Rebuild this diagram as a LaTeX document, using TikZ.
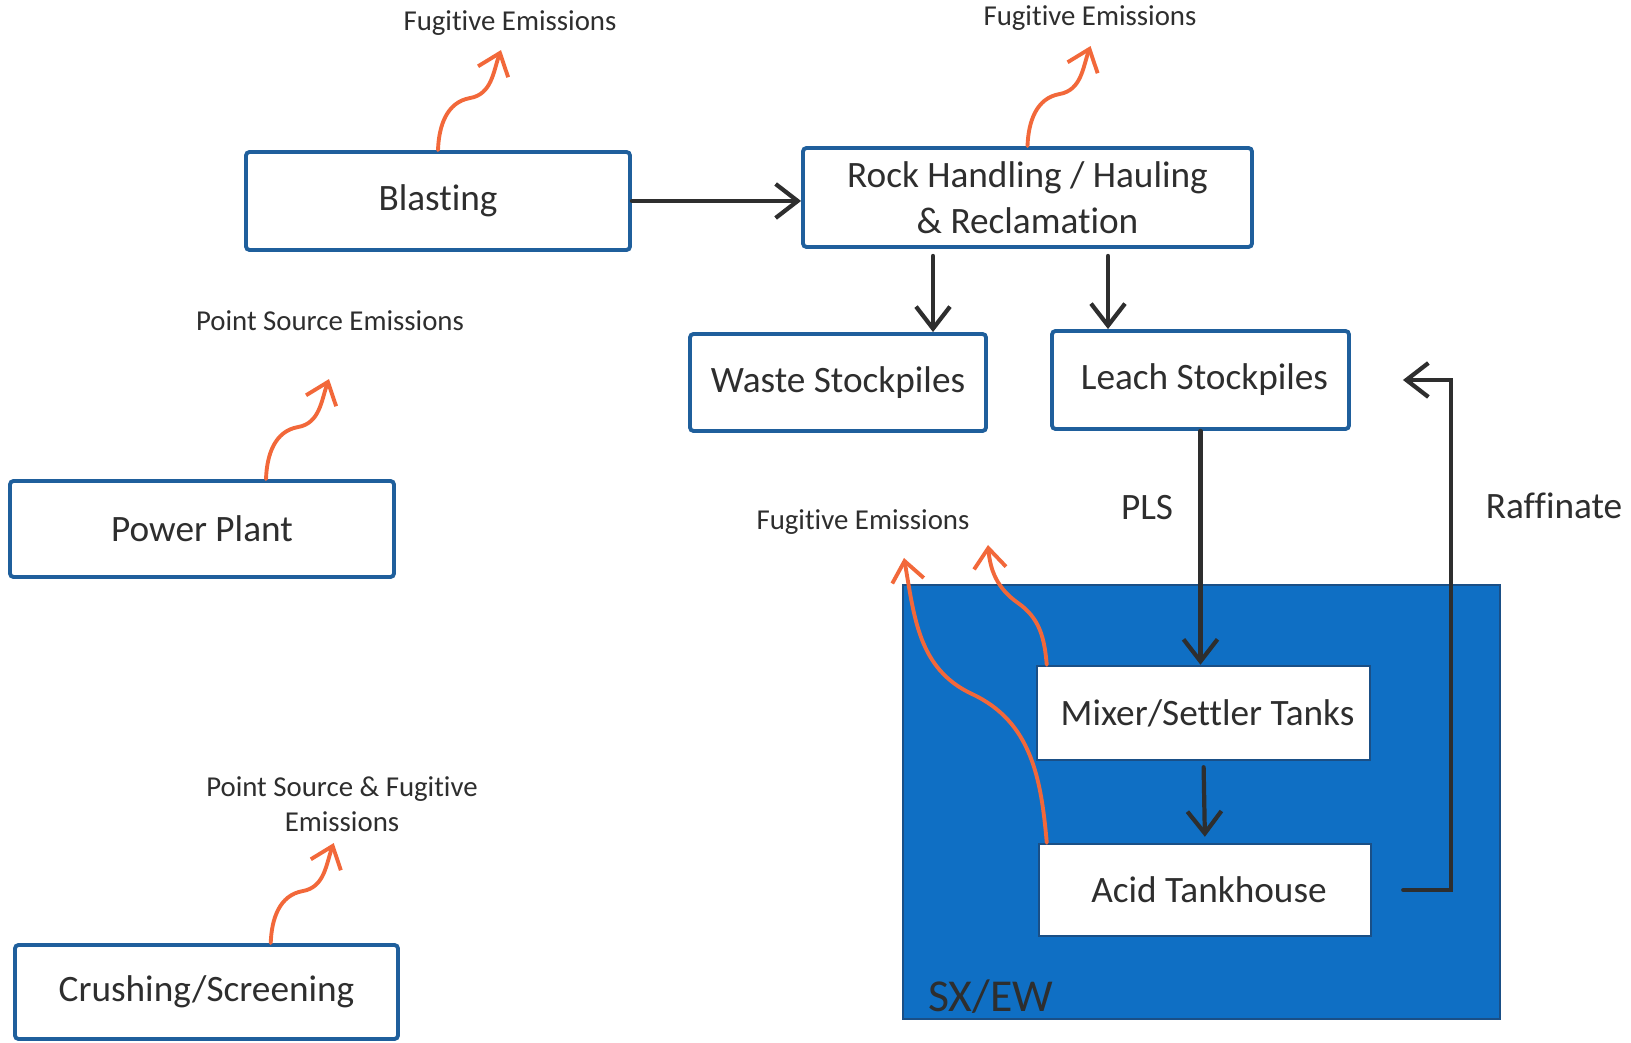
\documentclass[tikz,border=0pt]{standalone}
\usepackage{fontspec}
\setmainfont{Carlito}[Ligatures=NoCommon]
\usetikzlibrary{arrows.meta,positioning,calc}
\definecolor{BoxBlue}{HTML}{1F5F9C}
\definecolor{SXBlue}{HTML}{0F6FC4}
\definecolor{SXEdge}{HTML}{1A4F86}
\definecolor{Fume}{HTML}{F2683A}
\definecolor{Ink}{HTML}{2E2E2E}
\tikzset{
  flowarrow/.style={-{Straight Barb[length=2.2mm,width=3.4mm]}, line width=1.2pt, draw=Ink, line cap=round},
  fumearrow/.style={-{Straight Barb[length=2mm,width=3.2mm]}, line width=1.1pt, draw=Fume, line cap=round},
  procbox/.style={rectangle, rounded corners=1pt, draw=BoxBlue, fill=white, line width=1.1pt, align=center, text=Ink, inner sep=0pt, font=\fontsize{10.6}{13}\selectfont},
  tankbox/.style={rectangle, draw=SXEdge, fill=white, line width=0.7pt, align=center, text=Ink, inner sep=0pt, font=\fontsize{10.6}{13}\selectfont},
  sxpanel/.style={rectangle, draw=SXEdge, fill=SXBlue, line width=0.8pt, inner sep=0pt},
  emisslabel/.style={font=\fontsize{8.2}{9.9}\selectfont, align=center, text=Ink},
  flowlabel/.style={font=\fontsize{10.6}{12}\selectfont, text=Ink},
}

\begin{document}
\begin{tikzpicture}[x=1cm,y=1cm]
\path[use as bounding box] (0,0) rectangle (16.31,10.42);
\fill[white] (0,0) rectangle (16.31,10.42);

% SX/EW panel
\node[sxpanel, minimum width=5.97cm, minimum height=4.34cm] (sxew) at (12.015,2.40) {};
\node[anchor=west, inner sep=0pt, font=\fontsize{13}{15}\selectfont, text=Ink] (sxlabel) at (9.275,0.45) {SX/EW};

% process boxes
\node[procbox, minimum width=3.84cm, minimum height=0.98cm] (blast) at (4.38,8.41) {Blasting};
\node[procbox, minimum width=4.49cm, minimum height=0.99cm] (rock) at (10.275,8.445) {Rock Handling / Hauling\\\& Reclamation};
\node[procbox, minimum width=2.96cm, minimum height=0.97cm] (waste) at (8.38,6.595) {Waste Stockpiles};
\node[procbox, minimum width=2.97cm, minimum height=0.98cm] (leach) at (12.005,6.62) {\hspace*{0.08cm}Leach Stockpiles};
\node[procbox, minimum width=3.84cm, minimum height=0.96cm] (power) at (2.02,5.13) {Power Plant};
\node[procbox, minimum width=3.83cm, minimum height=0.94cm] (crush) at (2.065,0.50) {Crushing/Screening};
\node[tankbox, minimum width=3.33cm, minimum height=0.94cm] (mixer) at (12.035,3.29) {\hspace*{0.08cm}Mixer/Settler Tanks};
\node[tankbox, minimum width=3.32cm, minimum height=0.92cm] (acid) at (12.05,1.52) {\hspace*{0.08cm}Acid Tankhouse};

% emission labels
\node[emisslabel] (fugblast) at (5.10,10.19) {Fugitive Emissions};
\node[emisslabel] (fugrock) at (10.90,10.24) {Fugitive Emissions};
\node[emisslabel] (pspower) at (3.30,7.21) {Point Source Emissions};
\node[emisslabel] (fugsx) at (8.63,5.20) {Fugitive Emissions};
\node[emisslabel] (pscrush) at (3.42,2.38) {Point Source \& Fugitive\\Emissions};

% stream labels
\node[flowlabel] (pls) at (11.47,5.34) {PLS};
\node[flowlabel] (raff) at (15.54,5.365) {Raffinate};

% material flow
\coordinate (wdrop) at (9.33,0);
\coordinate (ldrop) at (11.08,0);
\draw[flowarrow] (blast.east) -- (blast.east -| rock.west);
\draw[flowarrow, shorten <=0.07cm] (rock.south -| wdrop) -- (waste.north -| wdrop);
\draw[flowarrow, shorten <=0.07cm] (rock.south -| ldrop) -- (leach.north -| ldrop);
\draw[flowarrow] (leach.south) -- (leach.south |- mixer.north);
\draw[flowarrow, shorten <=0.06cm, shorten >=0.06cm] (mixer.south) -- (acid.north);
\draw[flowarrow] ($(acid.east)+(0.31,0)$) -- ++(0.48,0) |- ($(leach.east)+(0.52,0)$);

% emission plumes
\coordinate (fblast) at (blast.north);
\coordinate (frock) at (rock.north);
\coordinate (fpower) at ($(power.north west)!0.665!(power.north east)$);
\coordinate (fcrush) at ($(crush.north west)!0.666!(crush.north east)$);
\foreach \s in {fblast,frock,fpower,fcrush}
  \draw[fumearrow] (\s) to[out=88,in=190] ++(0.32,0.52) to[out=10,in=250] ++(0.31,0.48);
\draw[fumearrow] ($(acid.north west)+(0.09,0)$) to[out=95,in=-25] (9.72,3.48) to[out=155,in=-80] (9.04,4.84);
\draw[fumearrow] ($(mixer.north west)+(0.11,0)$) to[out=95,in=-35] (10.18,4.39) to[out=145,in=-85] (9.88,4.97);
\end{tikzpicture}
\end{document}
